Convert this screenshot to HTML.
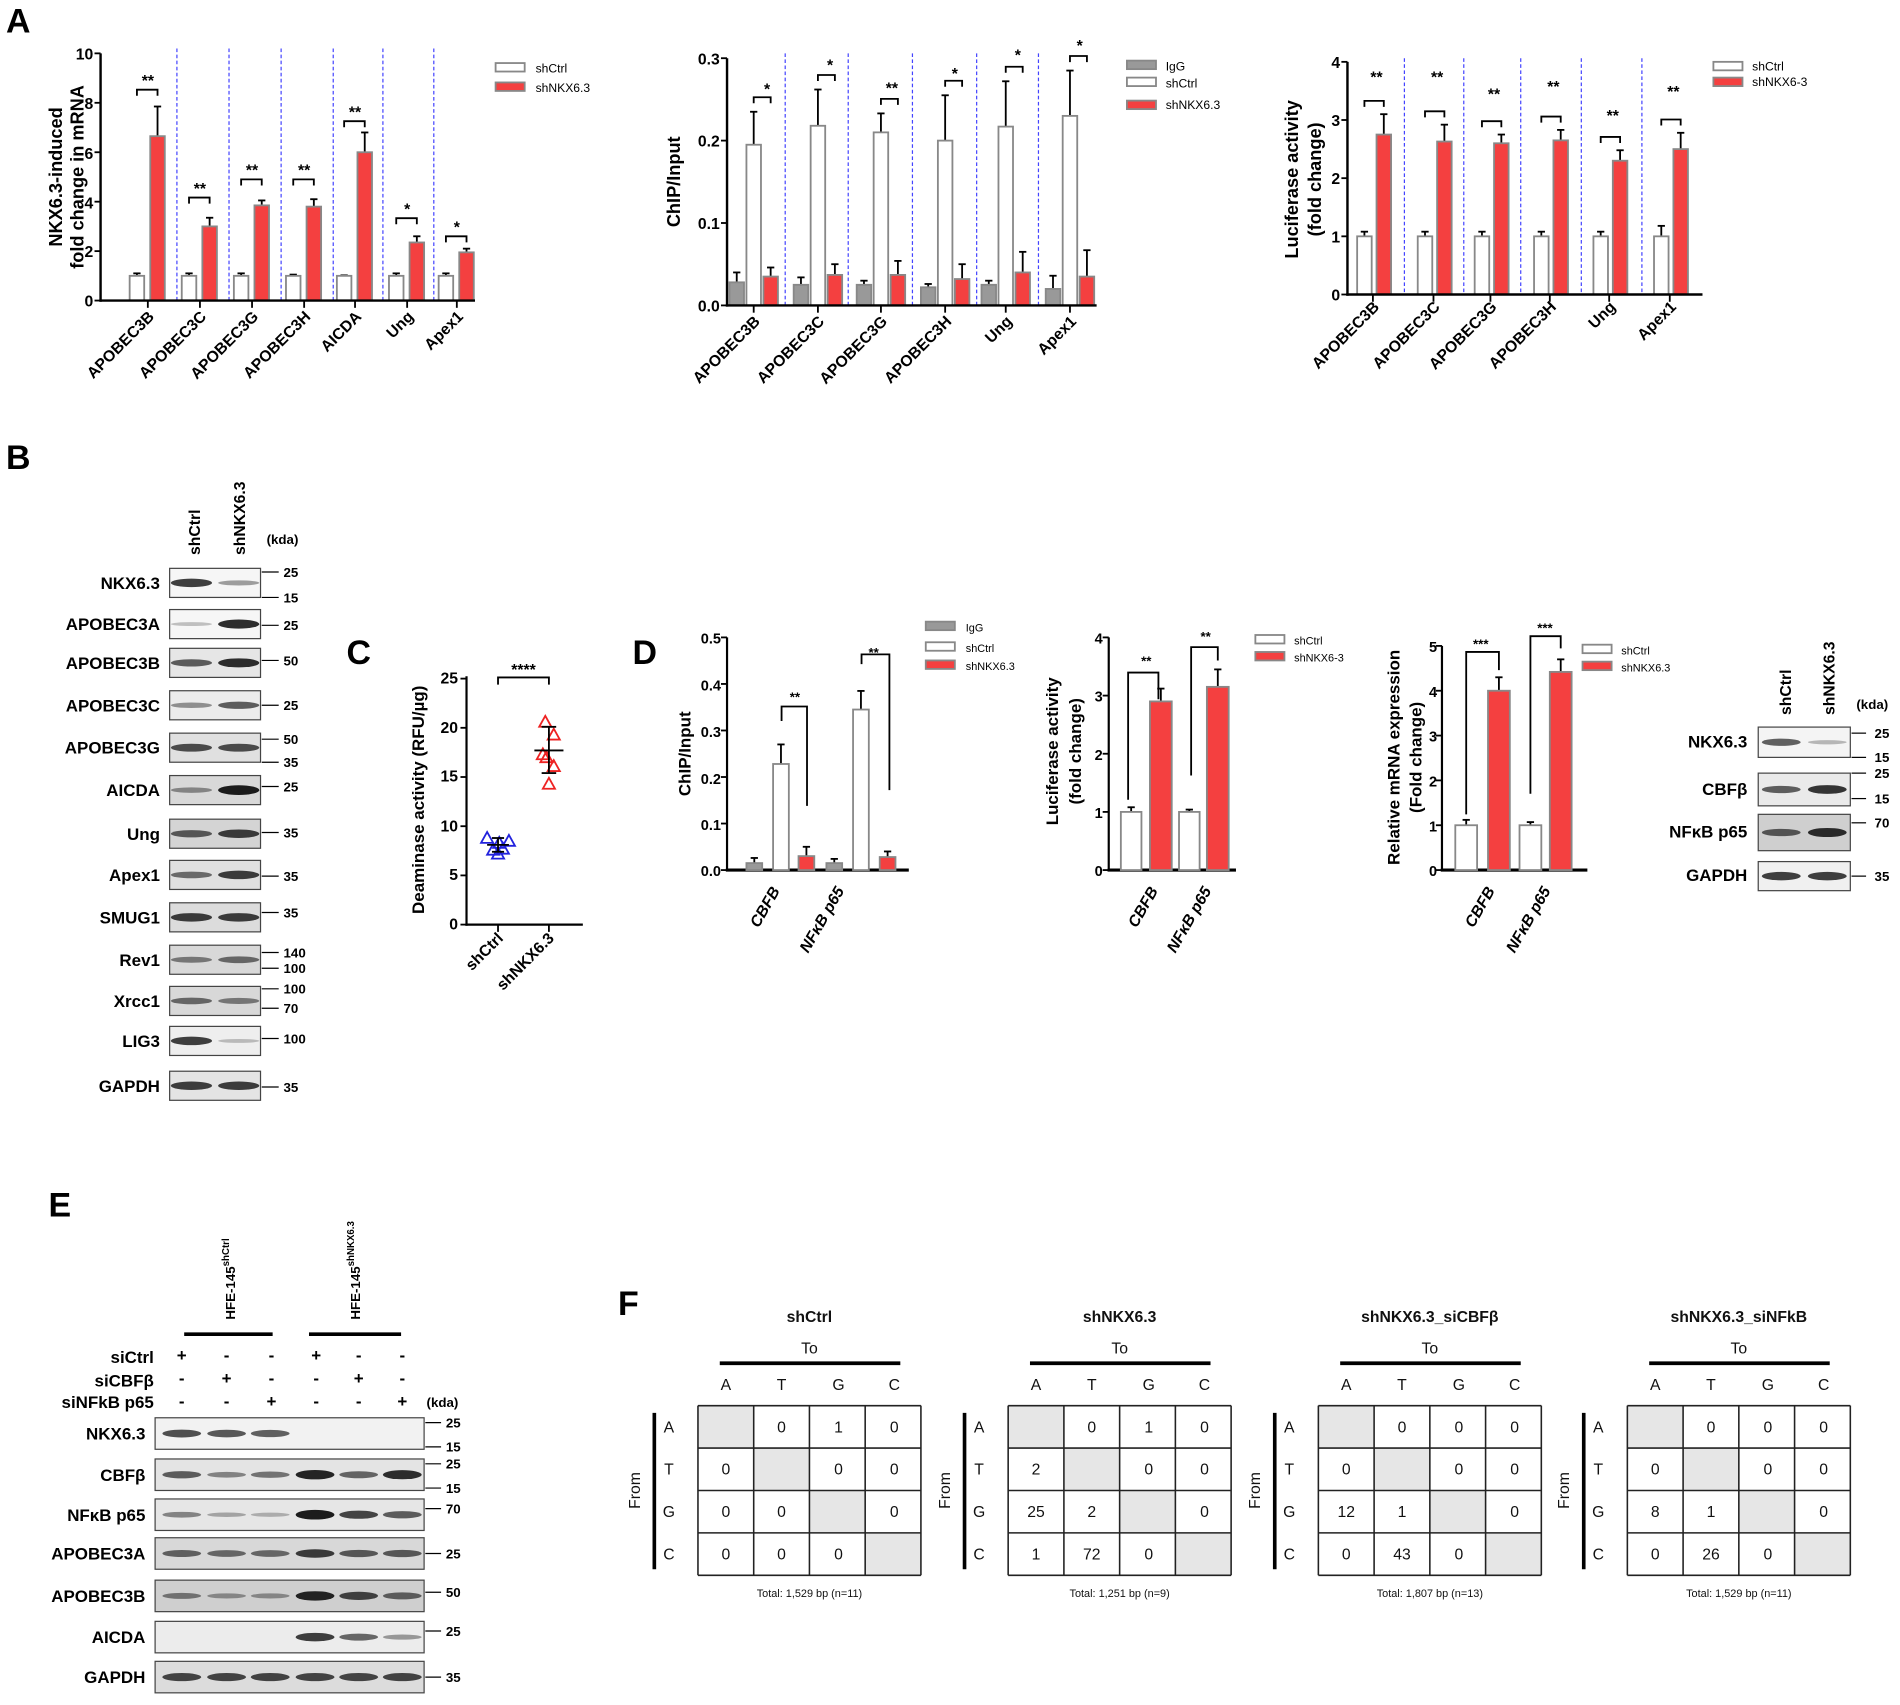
<!DOCTYPE html>
<html><head><meta charset="utf-8"><style>
html,body{margin:0;padding:0;background:#fff}
svg{display:block}
text{font-family:"Liberation Sans",Arial,sans-serif}
.b{font-weight:bold}
</style></head><body>
<div style="position:relative;width:1900px;height:1705px">
<svg id="s" style="position:absolute;left:0;top:0" width="1900" height="1705" viewBox="0 0 1568 1407" xmlns="http://www.w3.org/2000/svg">
<rect width="1568" height="1407" fill="#fff"/>
<g id="geo"></g>
<g fill="#000">
<text x="5" y="27" class="b" font-size="28">A</text>
<text x="5" y="387" class="b" font-size="28">B</text>
<text x="286" y="548" class="b" font-size="28">C</text>
<text x="522" y="548" class="b" font-size="28">D</text>
<text x="40" y="1004" class="b" font-size="28">E</text>
<text x="510" y="1085" class="b" font-size="28">F</text>

<!-- A1 -->
<g class="b" font-size="13" text-anchor="end">
<text x="77" y="49">10</text><text x="77" y="90">8</text><text x="77" y="131">6</text><text x="77" y="172">4</text><text x="77" y="212">2</text><text x="77" y="253">0</text>
</g>
<text class="b" font-size="15" text-anchor="middle" transform="translate(51,146) rotate(-90)">NKX6.3-induced</text>
<text class="b" font-size="15" text-anchor="middle" transform="translate(69,146) rotate(-90)">fold change in mRNA</text>
<g class="b" font-size="13" text-anchor="end">
<text transform="translate(128,262) rotate(-45)">APOBEC3B</text>
<text transform="translate(171,262) rotate(-45)">APOBEC3C</text>
<text transform="translate(214,262) rotate(-45)">APOBEC3G</text>
<text transform="translate(257,262) rotate(-45)">APOBEC3H</text>
<text transform="translate(299,262) rotate(-45)">AICDA</text>
<text transform="translate(342,262) rotate(-45)">Ung</text>
<text transform="translate(383,262) rotate(-45)">Apex1</text>
</g>
<g class="b" font-size="13" text-anchor="middle">
<text x="122" y="71">**</text><text x="165" y="160">**</text><text x="208" y="145">**</text><text x="251" y="145">**</text><text x="293" y="97">**</text><text x="336" y="177">*</text><text x="377" y="192">*</text>
</g>
<text x="442" y="60" font-size="10">shCtrl</text><text x="442" y="76" font-size="10">shNKX6.3</text>

<!-- A2 -->
<g class="b" font-size="13" text-anchor="end">
<text x="594" y="53">0.3</text><text x="594" y="121">0.2</text><text x="594" y="189">0.1</text><text x="594" y="257">0.0</text>
</g>
<text class="b" font-size="15" text-anchor="middle" transform="translate(561,150) rotate(-90)">ChIP/Input</text>
<g class="b" font-size="13" text-anchor="end">
<text transform="translate(628,266) rotate(-45)">APOBEC3B</text>
<text transform="translate(681,266) rotate(-45)">APOBEC3C</text>
<text transform="translate(733,266) rotate(-45)">APOBEC3G</text>
<text transform="translate(786,266) rotate(-45)">APOBEC3H</text>
<text transform="translate(836,266) rotate(-45)">Ung</text>
<text transform="translate(889,266) rotate(-45)">Apex1</text>
</g>
<g class="b" font-size="13" text-anchor="middle">
<text x="633" y="78">*</text><text x="685" y="58">*</text><text x="736" y="77">**</text><text x="788" y="65">*</text><text x="840" y="50">*</text><text x="891" y="42">*</text>
</g>
<text x="962" y="58" font-size="10">IgG</text><text x="962" y="72" font-size="10">shCtrl</text><text x="962" y="90" font-size="10">shNKX6.3</text>

<!-- A3 -->
<g class="b" font-size="13" text-anchor="end">
<text x="1106" y="56">4</text><text x="1106" y="104">3</text><text x="1106" y="152">2</text><text x="1106" y="200">1</text><text x="1106" y="248">0</text>
</g>
<text class="b" font-size="15" text-anchor="middle" transform="translate(1071,148) rotate(-90)">Luciferase activity</text>
<text class="b" font-size="15" text-anchor="middle" transform="translate(1090,148) rotate(-90)">(fold change)</text>
<g class="b" font-size="13" text-anchor="end">
<text transform="translate(1139,254) rotate(-45)">APOBEC3B</text>
<text transform="translate(1189,254) rotate(-45)">APOBEC3C</text>
<text transform="translate(1236,254) rotate(-45)">APOBEC3G</text>
<text transform="translate(1285,254) rotate(-45)">APOBEC3H</text>
<text transform="translate(1334,254) rotate(-45)">Ung</text>
<text transform="translate(1384,254) rotate(-45)">Apex1</text>
</g>
<g class="b" font-size="13" text-anchor="middle">
<text x="1136" y="68">**</text><text x="1186" y="68">**</text><text x="1233" y="82">**</text><text x="1282" y="76">**</text><text x="1331" y="100">**</text><text x="1381" y="80">**</text>
</g>
<text x="1446" y="58" font-size="10">shCtrl</text><text x="1446" y="71" font-size="10">shNKX6-3</text>

<!-- B -->
<g class="b" font-size="13">
<text transform="translate(165,458) rotate(-90)">shCtrl</text>
<text transform="translate(202,458) rotate(-90)">shNKX6.3</text>
<text x="220" y="449" font-size="11">(kda)</text>
</g>
<g class="b" font-size="14" text-anchor="end">
<text x="132" y="486">NKX6.3</text><text x="132" y="520">APOBEC3A</text><text x="132" y="552">APOBEC3B</text><text x="132" y="587">APOBEC3C</text><text x="132" y="622">APOBEC3G</text><text x="132" y="657">AICDA</text><text x="132" y="693">Ung</text><text x="132" y="727">Apex1</text><text x="132" y="762">SMUG1</text><text x="132" y="797">Rev1</text><text x="132" y="831">Xrcc1</text><text x="132" y="864">LIG3</text><text x="132" y="901">GAPDH</text>
</g>
<g class="b" font-size="11">
<text x="234" y="476">25</text><text x="234" y="497">15</text><text x="234" y="520">25</text><text x="234" y="549">50</text><text x="234" y="586">25</text><text x="234" y="614">50</text><text x="234" y="633">35</text><text x="234" y="653">25</text><text x="234" y="691">35</text><text x="234" y="727">35</text><text x="234" y="757">35</text><text x="234" y="790">140</text><text x="234" y="803">100</text><text x="234" y="820">100</text><text x="234" y="836">70</text><text x="234" y="861">100</text><text x="234" y="901">35</text>
</g>

<!-- C -->
<g class="b" font-size="13" text-anchor="end">
<text x="378" y="564">25</text><text x="378" y="605">20</text><text x="378" y="645">15</text><text x="378" y="686">10</text><text x="378" y="726">5</text><text x="378" y="767">0</text>
</g>
<text class="b" font-size="14" text-anchor="middle" transform="translate(350,660) rotate(-90)">Deaminase activity (RFU/µg)</text>
<g class="b" font-size="13" text-anchor="end">
<text transform="translate(416,775) rotate(-45)">shCtrl</text>
<text transform="translate(458,775) rotate(-45)">shNKX6.3</text>
</g>
<text x="432" y="557" class="b" font-size="13" text-anchor="middle">****</text>

<!-- D1 -->
<g class="b" font-size="12" text-anchor="end">
<text x="595" y="531">0.5</text><text x="595" y="570">0.4</text><text x="595" y="608">0.3</text><text x="595" y="647">0.2</text><text x="595" y="685">0.1</text><text x="595" y="723">0.0</text>
</g>
<text class="b" font-size="14" text-anchor="middle" transform="translate(570,622) rotate(-90)">ChIP/Input</text>
<g class="b" font-size="13" font-style="italic" text-anchor="end">
<text transform="translate(644,735) rotate(-60)">CBFB</text>
<text transform="translate(697,735) rotate(-60)">NFκB p65</text>
</g>
<g class="b" font-size="11" text-anchor="middle"><text x="656" y="579">**</text><text x="721" y="542">**</text></g>
<text x="797" y="521" font-size="9">IgG</text><text x="797" y="538" font-size="9">shCtrl</text><text x="797" y="553" font-size="9">shNKX6.3</text>

<!-- D2 -->
<g class="b" font-size="12" text-anchor="end">
<text x="910" y="531">4</text><text x="910" y="579">3</text><text x="910" y="627">2</text><text x="910" y="675">1</text><text x="910" y="723">0</text>
</g>
<text class="b" font-size="14" text-anchor="middle" transform="translate(873,620) rotate(-90)">Luciferase activity</text>
<text class="b" font-size="14" text-anchor="middle" transform="translate(892,620) rotate(-90)">(fold change)</text>
<g class="b" font-size="13" font-style="italic" text-anchor="end">
<text transform="translate(956,735) rotate(-60)">CBFB</text>
<text transform="translate(1000,735) rotate(-60)">NFκB p65</text>
</g>
<g class="b" font-size="11" text-anchor="middle"><text x="946" y="549">**</text><text x="995" y="529">**</text></g>
<text x="1068" y="532" font-size="9">shCtrl</text><text x="1068" y="546" font-size="9">shNKX6-3</text>

<!-- D3 -->
<g class="b" font-size="12" text-anchor="end">
<text x="1186" y="538">5</text><text x="1186" y="575">4</text><text x="1186" y="612">3</text><text x="1186" y="649">2</text><text x="1186" y="686">1</text><text x="1186" y="723">0</text>
</g>
<text class="b" font-size="14" text-anchor="middle" transform="translate(1155,625) rotate(-90)">Relative mRNA expression</text>
<text class="b" font-size="14" text-anchor="middle" transform="translate(1173,625) rotate(-90)">(Fold change)</text>
<g class="b" font-size="13" font-style="italic" text-anchor="end">
<text transform="translate(1234,735) rotate(-60)">CBFB</text>
<text transform="translate(1280,735) rotate(-60)">NFκB p65</text>
</g>
<g class="b" font-size="11" text-anchor="middle"><text x="1222" y="535">***</text><text x="1275" y="522">***</text></g>
<text x="1338" y="540" font-size="9">shCtrl</text><text x="1338" y="554" font-size="9">shNKX6.3</text>

<!-- D4 -->
<g class="b" font-size="13">
<text transform="translate(1478,590) rotate(-90)">shCtrl</text>
<text transform="translate(1514,590) rotate(-90)">shNKX6.3</text>
<text x="1532" y="585" font-size="11">(kda)</text>
</g>
<g class="b" font-size="14" text-anchor="end">
<text x="1442" y="617">NKX6.3</text><text x="1442" y="656">CBFβ</text><text x="1442" y="691">NFκB p65</text><text x="1442" y="727">GAPDH</text>
</g>
<g class="b" font-size="11">
<text x="1547" y="609">25</text><text x="1547" y="629">15</text><text x="1547" y="642">25</text><text x="1547" y="663">15</text><text x="1547" y="683">70</text><text x="1547" y="727">35</text>
</g>

<!-- E -->
<g class="b" font-size="11">
<text transform="translate(194,1089) rotate(-90)">HFE-145<tspan dy="-5" font-size="8">shCtrl</tspan></text>
<text transform="translate(297,1089) rotate(-90)">HFE-145<tspan dy="-5" font-size="8">shNKX6.3</tspan></text>
</g>
<g class="b" font-size="14" text-anchor="end">
<text x="127" y="1125">siCtrl</text><text x="127" y="1144">siCBFβ</text><text x="127" y="1162">siNFkB p65</text>
</g>
<g class="b" font-size="14" text-anchor="middle">
<text x="150" y="1123">+</text><text x="187" y="1123">-</text><text x="224" y="1123">-</text><text x="261" y="1123">+</text><text x="296" y="1123">-</text><text x="332" y="1123">-</text>
<text x="150" y="1142">-</text><text x="187" y="1142">+</text><text x="224" y="1142">-</text><text x="261" y="1142">-</text><text x="296" y="1142">+</text><text x="332" y="1142">-</text>
<text x="150" y="1161">-</text><text x="187" y="1161">-</text><text x="224" y="1161">+</text><text x="261" y="1161">-</text><text x="296" y="1161">-</text><text x="332" y="1161">+</text>
</g>
<text x="352" y="1161" class="b" font-size="11">(kda)</text>
<g class="b" font-size="14" text-anchor="end">
<text x="120" y="1188">NKX6.3</text><text x="120" y="1222">CBFβ</text><text x="120" y="1255">NFκB p65</text><text x="120" y="1287">APOBEC3A</text><text x="120" y="1322">APOBEC3B</text><text x="120" y="1356">AICDA</text><text x="120" y="1389">GAPDH</text>
</g>
<g class="b" font-size="11">
<text x="368" y="1178">25</text><text x="368" y="1198">15</text><text x="368" y="1212">25</text><text x="368" y="1232">15</text><text x="368" y="1249">70</text><text x="368" y="1286">25</text><text x="368" y="1318">50</text><text x="368" y="1350">25</text><text x="368" y="1388">35</text>
</g>

<!-- F tables -->
<g font-size="13" text-anchor="middle" fill="#111">
<text x="668" y="1091" font-weight="bold">shCtrl</text><text x="668" y="1117">To</text>
<text x="599" y="1147">A</text><text x="645" y="1147">T</text><text x="692" y="1147">G</text><text x="738" y="1147">C</text>
<text x="552" y="1182">A</text><text x="552" y="1217">T</text><text x="552" y="1252">G</text><text x="552" y="1287">C</text>
<text transform="translate(528,1230) rotate(-90)">From</text>
<text x="645" y="1182">0</text><text x="692" y="1182">1</text><text x="738" y="1182">0</text>
<text x="599" y="1217">0</text><text x="692" y="1217">0</text><text x="738" y="1217">0</text>
<text x="599" y="1252">0</text><text x="645" y="1252">0</text><text x="738" y="1252">0</text>
<text x="599" y="1287">0</text><text x="645" y="1287">0</text><text x="692" y="1287">0</text>
<text x="668" y="1318" font-size="9">Total:  1,529 bp  (n=11)</text>
<text x="924" y="1091" font-weight="bold">shNKX6.3</text><text x="924" y="1117">To</text>
<text x="855" y="1147">A</text><text x="901" y="1147">T</text><text x="948" y="1147">G</text><text x="994" y="1147">C</text>
<text x="808" y="1182">A</text><text x="808" y="1217">T</text><text x="808" y="1252">G</text><text x="808" y="1287">C</text>
<text transform="translate(784,1230) rotate(-90)">From</text>
<text x="901" y="1182">0</text><text x="948" y="1182">1</text><text x="994" y="1182">0</text>
<text x="855" y="1217">2</text><text x="948" y="1217">0</text><text x="994" y="1217">0</text>
<text x="855" y="1252">25</text><text x="901" y="1252">2</text><text x="994" y="1252">0</text>
<text x="855" y="1287">1</text><text x="901" y="1287">72</text><text x="948" y="1287">0</text>
<text x="924" y="1318" font-size="9">Total:  1,251 bp  (n=9)</text>
<text x="1180" y="1091" font-weight="bold">shNKX6.3_siCBFβ</text><text x="1180" y="1117">To</text>
<text x="1111" y="1147">A</text><text x="1157" y="1147">T</text><text x="1204" y="1147">G</text><text x="1250" y="1147">C</text>
<text x="1064" y="1182">A</text><text x="1064" y="1217">T</text><text x="1064" y="1252">G</text><text x="1064" y="1287">C</text>
<text transform="translate(1040,1230) rotate(-90)">From</text>
<text x="1157" y="1182">0</text><text x="1204" y="1182">0</text><text x="1250" y="1182">0</text>
<text x="1111" y="1217">0</text><text x="1204" y="1217">0</text><text x="1250" y="1217">0</text>
<text x="1111" y="1252">12</text><text x="1157" y="1252">1</text><text x="1250" y="1252">0</text>
<text x="1111" y="1287">0</text><text x="1157" y="1287">43</text><text x="1204" y="1287">0</text>
<text x="1180" y="1318" font-size="9">Total:  1,807 bp  (n=13)</text>
<text x="1435" y="1091" font-weight="bold">shNKX6.3_siNFkB</text><text x="1435" y="1117">To</text>
<text x="1366" y="1147">A</text><text x="1412" y="1147">T</text><text x="1459" y="1147">G</text><text x="1505" y="1147">C</text>
<text x="1319" y="1182">A</text><text x="1319" y="1217">T</text><text x="1319" y="1252">G</text><text x="1319" y="1287">C</text>
<text transform="translate(1295,1230) rotate(-90)">From</text>
<text x="1412" y="1182">0</text><text x="1459" y="1182">0</text><text x="1505" y="1182">0</text>
<text x="1366" y="1217">0</text><text x="1459" y="1217">0</text><text x="1505" y="1217">0</text>
<text x="1366" y="1252">8</text><text x="1412" y="1252">1</text><text x="1505" y="1252">0</text>
<text x="1366" y="1287">0</text><text x="1412" y="1287">26</text><text x="1459" y="1287">0</text>
<text x="1435" y="1318" font-size="9">Total:  1,529 bp  (n=11)</text>
</g>
</g>
</svg>
</div>
<script>
var g=document.getElementById('geo'),h='';
function R(x,y,w,hh,f,s,sw){h+='<rect x="'+x+'" y="'+y+'" width="'+w+'" height="'+hh+'" fill="'+f+'" stroke="'+(s||'none')+'" stroke-width="'+(sw||1)+'"/>';}
function L(x1,y1,x2,y2,sw,c,d){h+='<line x1="'+x1+'" y1="'+y1+'" x2="'+x2+'" y2="'+y2+'" stroke="'+(c||'#000')+'" stroke-width="'+(sw||1.5)+'"'+(d?' stroke-dasharray="'+d+'"':'')+'/>';}
function P(d,sw,c){h+='<path d="'+d+'" fill="none" stroke="'+(c||'#000')+'" stroke-width="'+(sw||1.5)+'"/>';}
function bar(x,w,y0,y,f,e){ if(e!==undefined){L(x+w/2,y,x+w/2,e,1.5);L(x+w/2-3,e,x+w/2+3,e,1.5);} R(x,y,w,y0-y,f,'#888',1.5);}
var RED='#f44040',GR='#999',v,c,rv,re,we;
// A1
c=[122,165,208,251,293,336,377];rv=[6.65,3.0,3.85,3.8,6.0,2.35,1.95];re=[7.85,3.35,4.05,4.1,6.8,2.6,2.1];we=[1.1,1.1,1.1,1.05,1.02,1.1,1.1];var br=[74,163,148,148,100,180,195];
function Y1(v){return 248-20.4*v}
[146,189,232,275,316,358].forEach(function(x){L(x,40,x,248,1,'#44f','3,2')});
c.forEach(function(x,i){bar(x-15,12,248,Y1(1),'#fff',Y1(we[i]));bar(x+2,12,248,Y1(rv[i]),RED,Y1(re[i]));P('M'+(x-9)+' '+(br[i]+5)+'V'+br[i]+'H'+(x+8)+'V'+(br[i]+5));L(x,248,x,254,1.5);});
L(83,44,83,249,2);L(82,248,392,248,2);
for(v=0;v<=10;v+=2)L(78,Y1(v),83,Y1(v),1.5);
R(409,52,24,7,'#fff','#888',1.5);R(409,68,24,7,RED,'#888',1.5);
// A2
function Y2(v){return 252-680*v}
c=[622,675,727,780,830,883];var wv=[.195,.218,.21,.2,.217,.23],wev=[.235,.262,.233,.255,.272,.285],rv2=[.035,.037,.037,.032,.04,.035],rev=[.046,.05,.054,.05,.065,.067],gv=[.028,.025,.025,.022,.025,.02],gev=[.04,.034,.03,.026,.03,.036];
[648,700,753,806,857].forEach(function(x){L(x,44,x,252,1,'#44f','3,2')});
c.forEach(function(x,i){bar(x-20,12,252,Y2(gv[i]),GR,Y2(gev[i]));bar(x-6,12,252,Y2(wv[i]),'#fff',Y2(wev[i]));bar(x+8,12,252,Y2(rv2[i]),RED,Y2(rev[i]));var b=Y2(wev[i])-12;P('M'+x+' '+(b+5)+'V'+b+'H'+(x+14)+'V'+(b+5));L(x,252,x,258,1.5)});
L(600,48,600,253,2);L(599,252,905,252,2);
for(v=0;v<=3;v++)L(595,Y2(v/10),600,Y2(v/10),1.5);
R(930,50,24,7,GR,'#888',1.5);R(930,64,24,7,'#fff','#888',1.5);R(930,83,24,7,RED,'#888',1.5);
// A3
function Y3(v){return 243-48*v}
c=[1133,1183,1230,1279,1328,1378];rv=[2.75,2.63,2.6,2.65,2.3,2.5];re=[3.1,2.92,2.75,2.83,2.48,2.78];we=[1.08,1.08,1.08,1.08,1.08,1.18];
[1159,1208,1255,1305,1355].forEach(function(x){L(x,48,x,243,1,'#44f','3,2')});
c.forEach(function(x,i){bar(x-13,12,243,Y3(1),'#fff',Y3(we[i]));bar(x+3,12,243,Y3(rv[i]),RED,Y3(re[i]));var b=Y3(re[i])-11;P('M'+(x-7)+' '+(b+5)+'V'+b+'H'+(x+9)+'V'+(b+5));L(x,243,x,249,1.5)});
L(1112,51,1112,244,2);L(1111,243,1405,243,2);
for(v=0;v<=4;v++)L(1107,Y3(v),1112,Y3(v),1.5);
R(1414,51,24,7,'#fff','#888',1.5);R(1414,64,24,7,RED,'#888',1.5);
// blot
function blot(x,y,w,hh,lanes,ints,bg,rx){R(x,y,w,hh,bg||'#eee','#444',1);lanes.forEach(function(lx,i){var a=ints[i];if(a>0.02){h+='<ellipse cx="'+lx+'" cy="'+(y+hh/2)+'" rx="'+(rx||17)+'" ry="'+(1.5+2.5*a)+'" fill="#111" opacity="'+(0.2+0.75*a)+'"/>';}});}
// B
var rows=[481,515,547,582,617,652,688,722,757,792,826,859,896];
var ints=[[.8,.25],[.05,.9],[.6,.9],[.3,.6],[.7,.7],[.3,1],[.6,.8],[.5,.8],[.8,.8],[.4,.5],[.5,.4],[.8,.05],[.8,.8]];
var bgs=['#f6f6f6','#f6f6f6','#e6e6e6','#ececec','#e0e0e0','#d8d8d8','#d4d4d4','#e0e0e0','#dcdcdc','#d8d8d8','#d8d8d8','#eeeeee','#e4e4e4'];
rows.forEach(function(y,i){blot(140,y-12,75,24,[158,197],ints[i],bgs[i])});
[472,493,516,545,582,610,629,649,687,723,753,786,799,816,832,857,897].forEach(function(y){L(216,y,230,y,1)});
// C
function YC(v){return 763-8.12*v}
L(385,558,385,764,1.8);L(384,763,481,763,1.8);
for(v=0;v<=25;v+=5)L(380,YC(v),385,YC(v),1.5);L(411,763,411,769,1.5);L(453,763,453,769,1.5);
function tri(x,y,col){h+='<path d="M'+x+' '+(y-5)+'L'+(x+5)+' '+(y+4)+'L'+(x-5)+' '+(y+4)+'Z" fill="none" stroke="'+col+'" stroke-width="1.5"/>';}
[[402,8.8],[407,7.6],[411,7.2],[415,7.7],[420,8.5],[412,8.3]].forEach(function(p){tri(p[0],YC(p[1]),'#22d')});
[[450,20.6],[457,19.3],[448,17.3],[457,16.1],[453,14.3],[451,17.0]].forEach(function(p){tri(p[0],YC(p[1]),'#e22')});
L(402,YC(8.1),420,YC(8.1),1.5);L(411,YC(7.4),411,YC(8.8),1.5);L(406,YC(7.4),416,YC(7.4),1.5);L(406,YC(8.8),416,YC(8.8),1.5);
L(441,YC(17.7),465,YC(17.7),1.5);L(453,YC(15.4),453,YC(20.1),1.5);L(447,YC(15.4),459,YC(15.4),1.5);L(447,YC(20.1),459,YC(20.1),1.5);
P('M411 565V559H453V565',1.5);
// D1
function YD(v){return 718-384*v}
L(600,526,600,719,1.8);L(599,718,750,718,2.5);
for(v=0;v<=5;v++)L(595,YD(v/10),600,YD(v/10),1.5);
bar(616,13,718,YD(.015),GR,YD(.026));bar(638,13,718,YD(.228),'#fff',YD(.27));bar(659,13,718,YD(.03),RED,YD(.05));
bar(682,13,718,YD(.015),GR,YD(.024));bar(704,13,718,YD(.345),'#fff',YD(.385));bar(726,13,718,YD(.028),RED,YD(.04));
P('M645 595V583H666V665');P('M711 548V540H734V652');
R(764,513,24,7,GR,'#888',1.5);R(764,530,24,7,'#fff','#888',1.5);R(764,545,24,7,RED,'#888',1.5);
// D2
function YE(v){return 718-48*v}
L(915,526,915,719,1.8);L(914,718,1020,718,2.5);
for(v=0;v<=4;v++)L(910,YE(v),915,YE(v),1.5);
bar(925,17,718,YE(1),'#fff',YE(1.08));bar(949,18,718,YE(2.9),RED,YE(3.12));bar(973,17,718,YE(1),'#fff',YE(1.04));bar(996,18,718,YE(3.15),RED,YE(3.45));
P('M931 660V555H956V577');P('M983 640V534H1005V545');
R(1036,524,24,7,'#fff','#888',1.5);R(1036,538,24,7,RED,'#888',1.5);
// D3
function YF(v){return 718-37*v}
L(1190,533,1190,719,1.8);L(1189,718,1310,718,2.5);
for(v=0;v<=5;v++)L(1185,YF(v),1190,YF(v),1.5);
bar(1201,18,718,YF(1),'#fff',YF(1.12));bar(1228,18,718,YF(4),RED,YF(4.3));bar(1254,18,718,YF(1),'#fff',YF(1.07));bar(1279,18,718,YF(4.42),RED,YF(4.7));
P('M1210 672V538H1237V553');P('M1263 655V525H1288V535');
R(1306,532,24,7,'#fff','#888',1.5);R(1306,546,24,7,RED,'#888',1.5);
// D4 blots
blot(1451,600,76,25,[1470,1508],[.6,.1],'#f4f4f4',16);
blot(1451,638,76,27,[1470,1508],[.6,.85],'#eaeaea',16);
blot(1451,672,76,30,[1470,1508],[.6,.9],'#cfcfcf',16);
blot(1451,711,76,24,[1470,1508],[.8,.8],'#f0f0f0',16);
[605,625,638,659,679,723].forEach(function(y){L(1528,y,1540,y,1)});
// E
L(152,1101,225,1101,3);L(255,1101,331,1101,3);
var er=[1183,1217,1250,1282,1317,1351,1384],ln=[150,187,223,260,296,332];
var ei=[[.7,.65,.6,0,0,0],[.6,.35,.45,.95,.55,.9],[.35,.15,.1,1,.75,.6],[.55,.5,.5,.8,.6,.6],[.4,.25,.25,.95,.75,.55],[0,0,0,.8,.55,.25],[.75,.75,.75,.75,.75,.75]];
var eb=['#f2f2f2','#e4e4e4','#e6e6e6','#d8d8d8','#cfcfcf','#ececec','#dcdcdc'];
er.forEach(function(y,i){blot(128,y-13,222,26,ln,ei[i],eb[i],16)});
[1174,1194,1208,1228,1245,1282,1314,1346,1384].forEach(function(y){L(351,y,364,y,1)});
// F grids
[0,256,512,767].forEach(function(o){var x0=576+o,y0=1160,i;
L(594+o,1125,743+o,1125,3);L(540+o,1166,540+o,1295,3);
for(i=0;i<4;i++)R(x0+i*46,y0+i*35,46,35,'#e6e6e6');
for(i=0;i<=4;i++){L(x0+i*46,y0,x0+i*46,y0+140,1.3,'#222');L(x0,y0+i*35,x0+184,y0+i*35,1.3,'#222');}
});
g.innerHTML=h;
</script>
</body></html>
